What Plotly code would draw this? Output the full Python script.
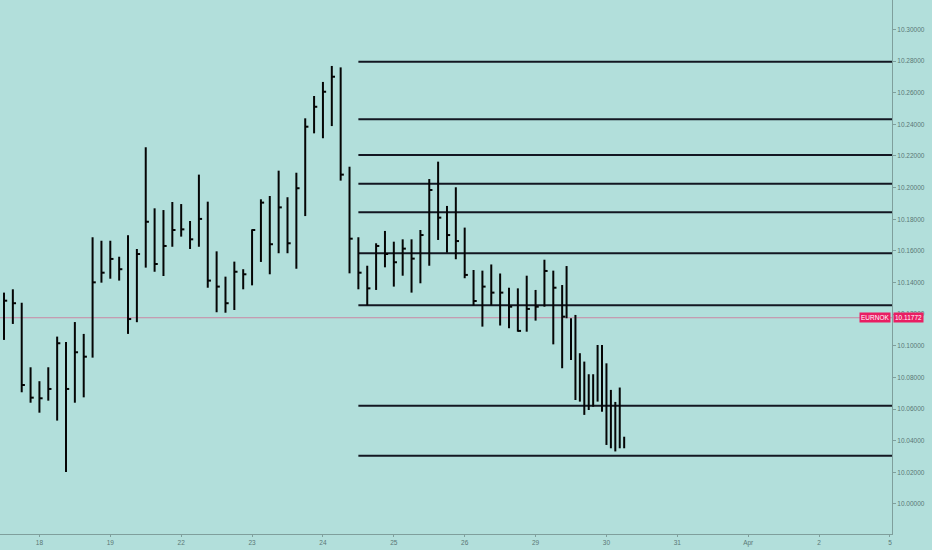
import plotly.graph_objects as go

# ---- data ----
# bar slot (3-hour bars; 8 per trading day)
bar_slot = list(range(0, 64)) + [63.5, 64, 64.5, 65, 65.5, 66, 66.5, 67, 67.5, 68, 68.5, 69, 69.5, 70]
highs = [10.1336, 10.1357, 10.1272, 10.0864, 10.0776, 10.0864, 10.1058, 10.1024, 10.1150, 10.1075,
         10.1686, 10.1664, 10.1664, 10.1563, 10.1699, 10.1612, 10.2255, 10.1869, 10.1858, 10.1909,
         10.1896, 10.1789, 10.2082, 10.1911, 10.1597, 10.1437, 10.1532, 10.1484, 10.1736, 10.1926,
         10.1947, 10.2107, 10.1939, 10.2094, 10.2438, 10.2579, 10.2668, 10.2769, 10.2760, 10.2132,
         10.1686, 10.1506, 10.1648, 10.1726, 10.1658, 10.1673, 10.1673, 10.1732, 10.2054, 10.2164,
         10.1884, 10.2002, 10.1747, 10.1479, 10.1475, 10.1514, 10.1457, 10.1367, 10.1363, 10.1443,
         10.1353, 10.1544, 10.1475, 10.1384,
         10.1504, 10.1174, 10.1195, 10.0953, 10.0900, 10.0820, 10.0820, 10.1005, 10.1005, 10.0889,
         10.0721, 10.0645, 10.0736, 10.0425]
lows = [10.1037, 10.1138, 10.0706, 10.0640, 10.0577, 10.0653, 10.0527, 10.0202, 10.0640, 10.0674,
        10.0925, 10.1399, 10.1424, 10.1412, 10.1075, 10.1149, 10.1494, 10.1468, 10.1441, 10.1626,
        10.1690, 10.1612, 10.1626, 10.1367, 10.1212, 10.1209, 10.1226, 10.1357, 10.1382, 10.1530,
        10.1452, 10.1585, 10.1585, 10.1487, 10.1820, 10.2343, 10.2312, 10.2389, 10.2044, 10.1458,
        10.1357, 10.1256, 10.1353, 10.1496, 10.1374, 10.1443, 10.1336, 10.1395, 10.1506, 10.1669,
        10.1589, 10.1547, 10.1427, 10.1255, 10.1121, 10.1256, 10.1128, 10.1111, 10.1089, 10.1089,
        10.1159, 10.1247, 10.1009, 10.0858,
        10.1174, 10.0910, 10.0657, 10.0647, 10.0563, 10.0594, 10.0615, 10.0647, 10.0583, 10.0373,
        10.0352, 10.0332, 10.0352, 10.0352]
closes = [10.1285, 10.1269, 10.0752, 10.0672, 10.0668, 10.0727, 10.1016, 10.0727, 10.0959, 10.0931,
          10.1401, 10.1462, 10.1549, 10.1484, 10.1169, 10.1580, 10.1784, 10.1517, 10.1631, 10.1732,
          10.1736, 10.1673, 10.1802, 10.1412, 10.1374, 10.1269, 10.1468, 10.1452, 10.1732, 10.1905,
          10.1642, 10.1875, 10.1648, 10.1996, 10.2385, 10.2511, 10.2606, 10.2701, 10.2082, 10.1677,
          10.1462, 10.1363, 10.1631, 10.1580, 10.1528, 10.1614, 10.1551, 10.1700, 10.1985, 10.1810,
          10.1700, 10.1662, 10.1448, 10.1283, 10.1374, 10.1336, 10.1336, 10.1247, 10.1094, 10.1233,
          10.1247, 10.1473, 10.1367, 10.1184,
          None, None, None, None, None, None, None, None, None, None,
          None, None, None, None]

levels = [10.2796, 10.2432, 10.2206, 10.2025, 10.1844, 10.1585, 10.1256, 10.0621, 10.0305]
level_start = 40

last_price = 10.11772
symbol = "EURNOK"

day_tick_slots = [4, 12, 20, 28, 36, 44, 52, 60, 68, 76, 84, 92, 100]
day_tick_labels = ["18", "19", "22", "23", "24", "25", "26", "29", "30", "31", "Apr", "2", "5"]

price_ticks = [10.00, 10.02, 10.04, 10.06, 10.08, 10.10, 10.12, 10.14, 10.16, 10.18,
               10.20, 10.22, 10.24, 10.26, 10.28, 10.30]
price_tick_labels = ["10.00000", "10.02000", "10.04000", "10.06000", "10.08000", "10.10000",
                     "10.12000", "10.14000", "10.16000", "10.18000", "10.20000", "10.22000",
                     "10.24000", "10.26000", "10.28000", "10.30000"]

# ---- figure ----
x_min, x_max = -0.45, 100.23
y_min, y_max = 9.9810, 10.3186
BG = "#b2dfdb"
AX = "#7f9f9c"
TXT = "#5a7775"
BAR = "#050505"
FONT = "Liberation Sans, Arial, sans-serif"

vx, vy, cx, cy = [], [], [], []
for s, h, l, c in zip(bar_slot, highs, lows, closes):
    vx += [s, s, None]
    vy += [l, h, None]
    if c is not None:
        cx += [s, s + 0.36, None]
        cy += [c, c, None]

fig = go.Figure()
fig.add_shape(type="line", xref="paper", x0=0, x1=1, yref="y", y0=last_price, y1=last_price,
              line=dict(color="rgba(233,30,99,0.45)", width=1), layer="below")

lx, ly = [], []
for lv in levels:
    lx += [level_start, x_max, None]
    ly += [lv, lv, None]
fig.add_trace(go.Scatter(x=lx, y=ly, mode="lines", line=dict(color="#131722", width=2),
                         hoverinfo="skip"))
fig.add_trace(go.Scatter(x=vx, y=vy, mode="lines", line=dict(color=BAR, width=2), hoverinfo="skip"))
fig.add_trace(go.Scatter(x=cx, y=cy, mode="lines", line=dict(color=BAR, width=2), hoverinfo="skip"))

fig.add_annotation(xref="paper", x=1, yref="y", y=last_price, xanchor="right", yanchor="middle",
                   text=symbol, showarrow=False, bgcolor="#e91e63", borderpad=1, xshift=-1,
                   font=dict(family=FONT, size=6.5, color="white"))
fig.add_annotation(xref="paper", x=1, yref="y", y=last_price, xanchor="left", yanchor="middle",
                   text=f"{last_price:.5f}", showarrow=False, bgcolor="#e91e63", borderpad=1, xshift=1,
                   font=dict(family=FONT, size=6.5, color="white"))

fig.update_layout(
    width=932, height=550,
    margin=dict(l=0, r=40, t=0, b=16, autoexpand=False),
    paper_bgcolor=BG, plot_bgcolor=BG,
    showlegend=False, hovermode=False,
    font=dict(family=FONT, size=6, color=TXT),
)
fig.update_xaxes(range=[x_min, x_max], showgrid=False, zeroline=False,
                 showline=True, linecolor=AX, linewidth=1,
                 tickmode="array", tickvals=day_tick_slots, ticktext=day_tick_labels,
                 ticks="outside", ticklen=2, tickcolor=AX, tickfont=dict(size=6.5, color=TXT))
fig.update_yaxes(range=[y_min, y_max], side="right", showgrid=False, zeroline=False,
                 showline=True, linecolor=AX, linewidth=1,
                 tickmode="array", tickvals=price_ticks, ticktext=price_tick_labels,
                 ticks="outside", ticklen=3, tickcolor=AX, tickfont=dict(size=6.5, color=TXT))

fig.write_html("out.html", config={"displayModeBar": False},
               post_script="document.body.style.margin='0';document.body.style.background='%s';" % BG)
